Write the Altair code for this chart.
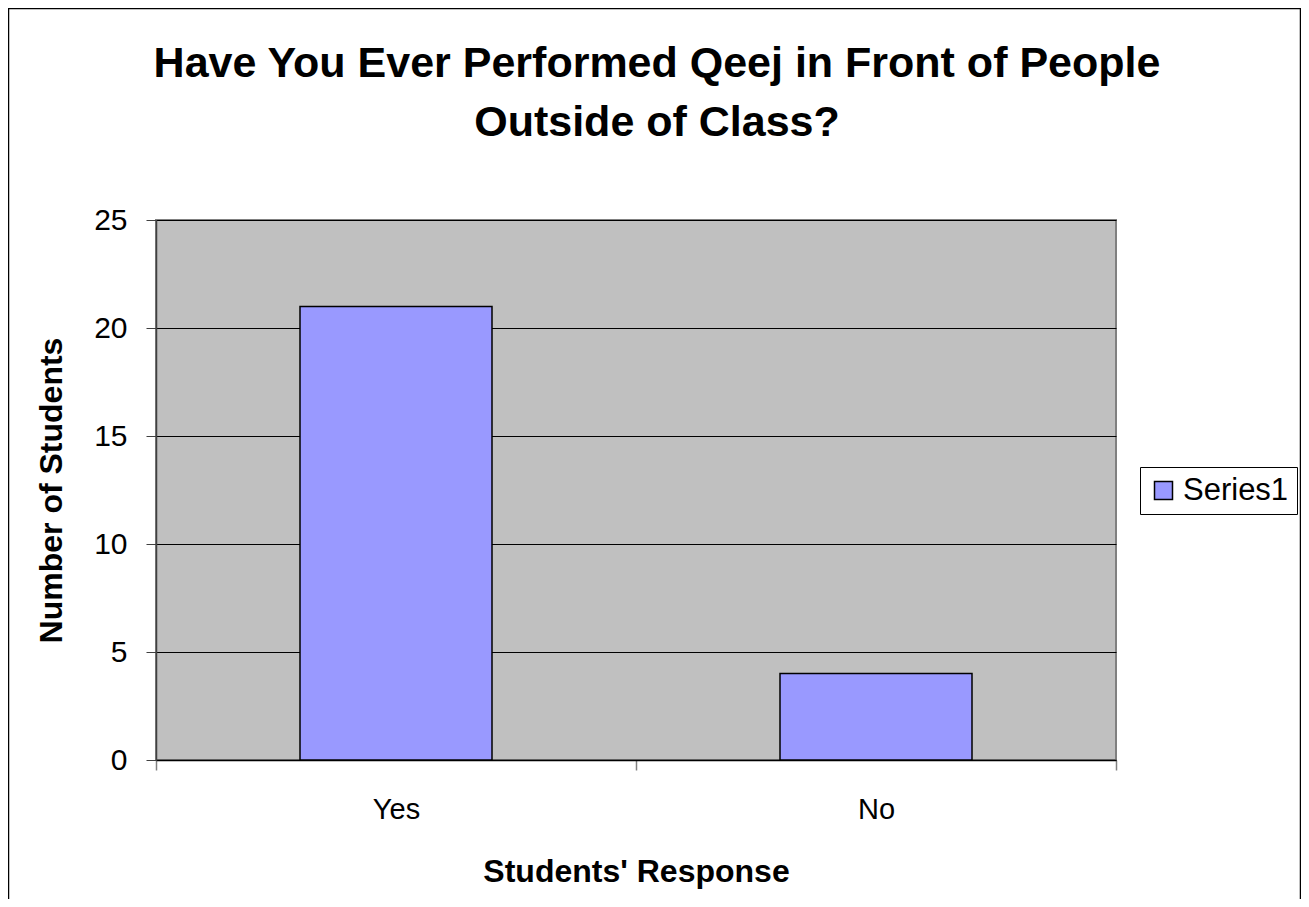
import altair as alt
import pandas as pd

categories = ["Yes", "No"]
counts = [21, 4]
series = ["Series1", "Series1"]
title_lines = ["Have You Ever Performed Qeej in Front of People", "Outside of Class?"]

df = pd.DataFrame({"response": categories, "students": counts, "series": series})
frame_df = pd.DataFrame({"k": [0]})

FONT = "Liberation Sans"

bars = alt.Chart(df).mark_bar(
    stroke="black", strokeWidth=1.5, width=alt.RelativeBandSize(0.4)
).encode(
    x=alt.X(
        "response:N",
        sort=categories,
        scale=alt.Scale(paddingInner=0, paddingOuter=0),
        axis=alt.Axis(
            title="Students' Response",
            labelAngle=0,
            labelFontSize=29,
            labelFont=FONT,
            labelColor="black",
            labelPadding=25,
            tickBand="extent",
            tickSize=10,
            tickColor="#808080",
            tickWidth=1.5,
            domainColor="black",
            domainWidth=1.5,
            titleFontSize=32,
            titleFont=FONT,
            titleFontWeight="bold",
            titleColor="black",
            titlePadding=32,
        ),
    ),
    y=alt.Y(
        "students:Q",
        scale=alt.Scale(domain=[0, 25]),
        axis=alt.Axis(
            title="Number of Students",
            values=[0, 5, 10, 15, 20, 25],
            labelFontSize=30,
            labelFont=FONT,
            labelColor="black",
            labelPadding=19,
            tickSize=10,
            tickColor="#404040",
            domainColor="#404040",
            domainWidth=1.5,
            gridColor="black",
            gridWidth=1,
            titleFontSize=32,
            titleFont=FONT,
            titleFontWeight="bold",
            titleColor="black",
            titlePadding=25,
        ),
    ),
    color=alt.Color(
        "series:N",
        scale=alt.Scale(range=["#9999FF"]),
        legend=alt.Legend(
            title=None,
            orient="none",
            legendX=984,
            legendY=247,
            symbolType="square",
            symbolSize=324,
            symbolStrokeColor="black",
            symbolStrokeWidth=1.5,
            labelFontSize=31,
            labelFont=FONT,
            labelColor="black",
            strokeColor="black",
            padding=8,
            fillColor="white",
        ),
    ),
)

border = alt.Chart(frame_df).mark_rect(fill=None, stroke="black", strokeWidth=1.5).encode(
    x=alt.value(-147.5),
    x2=alt.value(1144.5),
    y=alt.value(-211.5),
    y2=alt.value(700),
)

title = alt.Chart(frame_df).mark_text(
    font=FONT,
    fontSize=43,
    fontWeight="bold",
    color="black",
    align="center",
    baseline="alphabetic",
    lineHeight=58.5,
).encode(
    x=alt.value(501),
    y=alt.value(-143),
    text=alt.value(title_lines),
)

chart = alt.layer(border, title, bars).properties(
    width=960,
    height=540,
    autosize=alt.AutoSizeParams(type="none"),
    padding={"left": 148, "top": 212, "right": 185, "bottom": 139},
    background="white",
).configure_view(
    fill="#C0C0C0", stroke="#808080", strokeWidth=2
)

chart.save("out.html", embed_options={"renderer": "svg", "actions": False})
